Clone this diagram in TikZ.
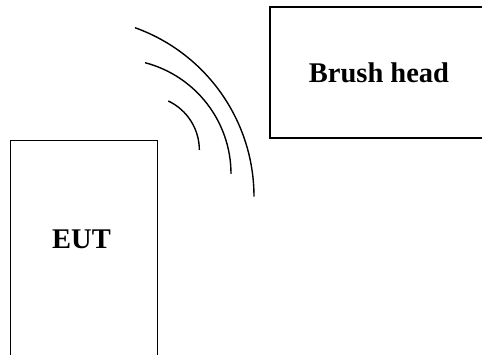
\documentclass[tikz,border=0pt]{standalone}
\usepackage{fontspec}
\setmainfont{Liberation Serif}
\begin{document}
\begin{tikzpicture}[x=1pt,y=1pt,
  box/.style={draw=black,line width=1.3pt,minimum width=#1,inner sep=0pt},
  lbl/.style={font=\bfseries\fontsize{28.5}{33}\selectfont,inner sep=0pt},
  wave/.style={draw=black,line width=1.4pt}]
\useasboundingbox (0,0) rectangle (482,354);
\clip (0,0) rectangle (482,354);
% Brush head box
\node[box=218pt,minimum height=131pt] (brush) at (379,281.5) {};
\node[lbl] (brushlbl) at (brush.center) {Brush head};
% EUT box (continues below the picture)
\node[box=147pt,minimum height=240pt,anchor=north west] (eut) at (10,214) {};
\node[lbl] (eutlbl) at (81.5,115) {EUT};
% waves
\draw[wave] (135,326.3) arc[start angle=70.3,end angle=0,radius=179.5pt];
\draw[wave] (145,291.3) arc[start angle=75.4,end angle=0,radius=115pt];
\draw[wave] (168.3,253) arc[start angle=64.7,end angle=0,radius=54.2pt];
\end{tikzpicture}
\end{document}
